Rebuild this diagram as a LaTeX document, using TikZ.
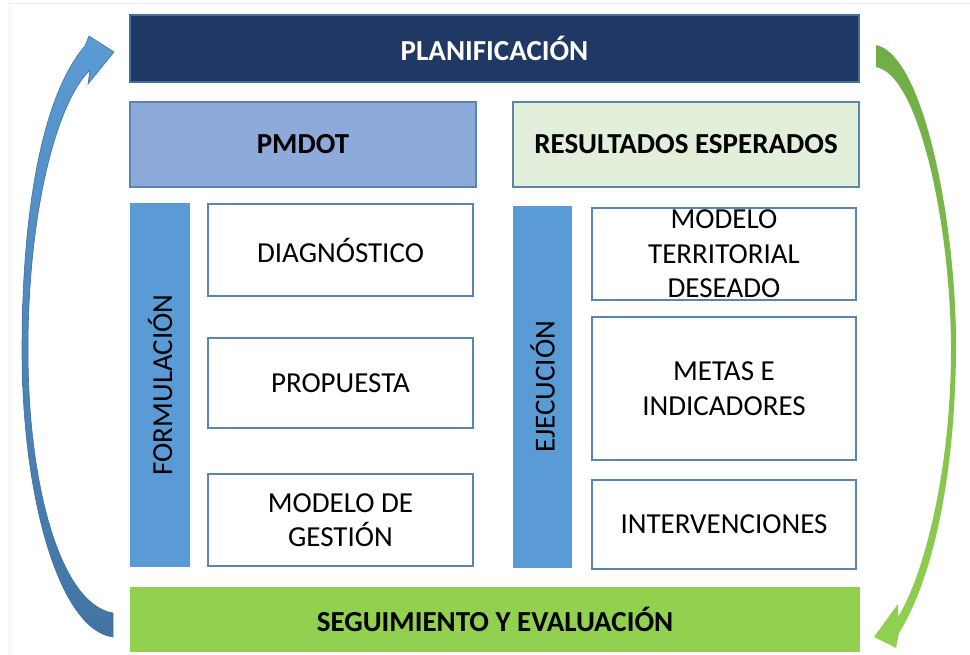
\documentclass[tikz,border=0pt]{standalone}
\usepackage{fontspec}
\setmainfont{Carlito}
\definecolor{navy}{HTML}{203864}
\definecolor{pmdotfill}{HTML}{8EAADB}
\definecolor{resfill}{HTML}{E2EFDA}
\definecolor{barblue}{HTML}{5B9BD5}
\definecolor{boxline}{HTML}{5B84B1}
\definecolor{darkline}{HTML}{41719C}
\definecolor{sevgreen}{HTML}{92D050}
\definecolor{arrgreen}{HTML}{70AD47}
\definecolor{arrgreenlight}{HTML}{B9DC96}
\definecolor{arrbluedark}{HTML}{4273A3}
\definecolor{framegray}{HTML}{EEEEEE}
\begin{document}
\begin{tikzpicture}[x=1pt,y=-1pt,
  lbl/.style={font=\fontsize{29}{34.5}\selectfont, align=center, text=black},
  boldlbl/.style={font=\fontsize{29}{34.5}\selectfont\bfseries, align=center},
  whitebox/.style={draw=boxline, line width=1.2pt, fill=white, inner sep=0pt, lbl},
  headbox/.style={draw=boxline, line width=1.2pt, inner sep=0pt, boldlbl},
  barbox/.style={fill=barblue, inner sep=0pt},
  barlbl/.style={lbl, rotate=90}
]
\useasboundingbox (0,0) rectangle (970,655);
\draw[framegray, line width=1pt] (9,655) -- (9,4) -- (970,4);

% top and bottom bands
\node[headbox, draw=darkline, fill=navy, text=white, minimum width=729pt, minimum height=67pt] (plan) at (494.5,48.5) {PLANIFICACIÓN};
\node[boldlbl, fill=sevgreen, inner sep=0pt, minimum width=730pt, minimum height=65pt] (seg) at (495,619.5) {SEGUIMIENTO Y EVALUACIÓN};

% headers
\node[headbox, fill=pmdotfill, minimum width=346pt, minimum height=85pt] (pmdot) at (303,144.5) {PMDOT};
\node[headbox, fill=resfill, minimum width=346pt, minimum height=85pt] (res) at (686,144.5) {RESULTADOS ESPERADOS};

% left column
\node[barbox, minimum width=60pt, minimum height=364pt] (form) at (160,385) {};
\node[barlbl] (formt) at (form.center) {FORMULACIÓN};
\node[whitebox, minimum width=265pt, minimum height=92pt] (diag) at (340.5,250) {DIAGNÓSTICO};
\node[whitebox, minimum width=265pt, minimum height=90pt] (prop) at (340.5,383) {PROPUESTA};
\node[whitebox, minimum width=265pt, minimum height=92pt] (gest) at (340.5,520) {MODELO DE\\GESTIÓN};

% right column
\node[barbox, minimum width=59pt, minimum height=362pt] (ejec) at (542.5,387) {};
\node[barlbl] (eject) at (ejec.center) {EJECUCIÓN};
\node[whitebox, minimum width=264pt, minimum height=92pt] (mtd) at (724,254) {MODELO\\TERRITORIAL\\DESEADO};
\node[whitebox, minimum width=264pt, minimum height=143pt] (metas) at (724,388.5) {METAS E\\INDICADORES};
\node[whitebox, minimum width=264pt, minimum height=89pt] (interv) at (724,524.5) {INTERVENCIONES};

% left curved arrow (up)
\path[draw=darkline, line width=0.6pt, top color=barblue, bottom color=arrbluedark]
  (113,637) .. controls (60,630) and (22,500) .. (22,350)
  .. controls (22,200) and (45,92) .. (85,46)
  -- (89,36) -- (114,52) -- (88,84) -- (90,70)
  .. controls (57,102) and (28,210) .. (28,350)
  .. controls (28,490) and (62,605) .. (113,613) -- cycle;

% right curved arrow (down)
\path[top color=arrgreen, middle color=arrgreenlight, bottom color=sevgreen]
  (876,45) .. controls (925,55) and (957,230) .. (956,350)
  .. controls (955,480) and (932,580) .. (899,633)
  -- (896,648) -- (874,637) -- (898,604) -- (898,617)
  .. controls (924,575) and (951,470) .. (951,350)
  .. controls (951,230) and (920,75) .. (876,67) -- cycle;
\end{tikzpicture}
\end{document}
